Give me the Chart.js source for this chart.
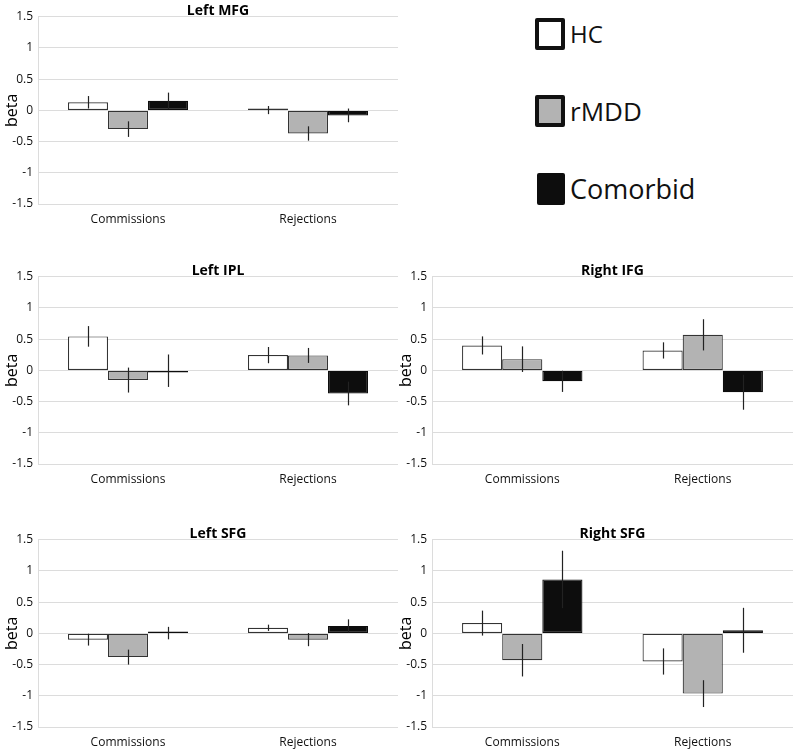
<!DOCTYPE html>
<html>
<head>
<meta charset="utf-8">
<script src="https://cdn.jsdelivr.net/npm/chart.js@4.4.1/dist/chart.umd.min.js"></script>
<style>
  html, body { margin: 0; padding: 0; background: #fff; width: 800px; height: 749px; overflow: hidden; }
  #wrap { position: relative; width: 800px; height: 749px; font-family: "Open Sans", sans-serif; }
  canvas { position: absolute; }
  .lg { position: absolute; display: flex; align-items: center; height: 32px; color: #111; }
  .sw { box-sizing: border-box; height: 32px; border-radius: 2px; margin-right: 5px; }
</style>
</head>
<body>
<div id="wrap"></div>
<script>
// ---- data ----
const categories = ['Commissions', 'Rejections'];
const groups = ['HC', 'rMDD', 'Comorbid'];
const yTicks = [-1.5, -1, -0.5, 0, 0.5, 1, 1.5];

const leftMFG_HC = [0.13, 0.005];      const leftMFG_HC_err = [0.10, 0.065];
const leftMFG_rMDD = [-0.30, -0.37];   const leftMFG_rMDD_err = [0.125, 0.115];
const leftMFG_Com = [0.155, -0.08];    const leftMFG_Com_err = [0.13, 0.11];

const leftIPL_HC = [0.545, 0.245];     const leftIPL_HC_err = [0.165, 0.13];
const leftIPL_rMDD = [-0.155, 0.24];   const leftIPL_rMDD_err = [0.20, 0.12];
const leftIPL_Com = [-0.005, -0.37];   const leftIPL_Com_err = [0.26, 0.19];

const rightIFG_HC = [0.40, 0.32];      const rightIFG_HC_err = [0.145, 0.13];
const rightIFG_rMDD = [0.18, 0.57];    const rightIFG_rMDD_err = [0.205, 0.25];
const rightIFG_Com = [-0.175, -0.35];  const rightIFG_Com_err = [0.17, 0.28];

const leftSFG_HC = [-0.10, 0.09];      const leftSFG_HC_err = [0.095, 0.05];
const leftSFG_rMDD = [-0.38, -0.10];   const leftSFG_rMDD_err = [0.12, 0.105];
const leftSFG_Com = [0.005, 0.12];     const leftSFG_Com_err = [0.10, 0.105];

const rightSFG_HC = [0.165, -0.45];    const rightSFG_HC_err = [0.20, 0.21];
const rightSFG_rMDD = [-0.43, -0.965]; const rightSFG_rMDD_err = [0.26, 0.215];
const rightSFG_Com = [0.865, 0.05];    const rightSFG_Com_err = [0.46, 0.36];

// ---- styles ----
const FONT = '"Open Sans", sans-serif';
const fills = ['#ffffff', '#b3b3b3', '#0d0d0d'];
const borders = ['#333333', '#333333', '#0d0d0d'];
const GRID = '#dcdcdc';

const panels = [
  { title: 'Left MFG', left: 0,   top: 0,   w: 400, h: 240, padR: 2, xh: 36,
    vals: [leftMFG_HC, leftMFG_rMDD, leftMFG_Com], errs: [leftMFG_HC_err, leftMFG_rMDD_err, leftMFG_Com_err] },
  { title: 'Left IPL', left: 0,   top: 260, w: 400, h: 240, padR: 2, xh: 36,
    vals: [leftIPL_HC, leftIPL_rMDD, leftIPL_Com], errs: [leftIPL_HC_err, leftIPL_rMDD_err, leftIPL_Com_err] },
  { title: 'Right IFG', left: 394, top: 260, w: 406, h: 240, padR: 7, xh: 36,
    vals: [rightIFG_HC, rightIFG_rMDD, rightIFG_Com], errs: [rightIFG_HC_err, rightIFG_rMDD_err, rightIFG_Com_err] },
  { title: 'Left SFG', left: 0,   top: 523, w: 400, h: 226, padR: 2, xh: 22,
    vals: [leftSFG_HC, leftSFG_rMDD, leftSFG_Com], errs: [leftSFG_HC_err, leftSFG_rMDD_err, leftSFG_Com_err] },
  { title: 'Right SFG', left: 394, top: 523, w: 406, h: 226, padR: 7, xh: 22,
    vals: [rightSFG_HC, rightSFG_rMDD, rightSFG_Com], errs: [rightSFG_HC_err, rightSFG_rMDD_err, rightSFG_Com_err] }
];

const errorBars = {
  id: 'errorBars',
  afterDatasetsDraw(chart) {
    const ctx = chart.ctx, ys = chart.scales.y;
    ctx.save();
    ctx.strokeStyle = '#222';
    ctx.lineWidth = 1.2;
    chart.data.datasets.forEach((ds, di) => {
      const meta = chart.getDatasetMeta(di);
      meta.data.forEach((bar, i) => {
        const v = ds.data[i], e = ds.errors[i];
        const x = Math.round(bar.x) + 0.5;
        ctx.beginPath();
        ctx.moveTo(x, ys.getPixelForValue(v + e));
        ctx.lineTo(x, ys.getPixelForValue(v - e));
        ctx.stroke();
      });
    });
    ctx.restore();
  }
};

const wrap = document.getElementById('wrap');
panels.forEach(p => {
  const c = document.createElement('canvas');
  c.width = p.w; c.height = p.h;
  c.style.left = p.left + 'px'; c.style.top = p.top + 'px';
  c.style.width = p.w + 'px'; c.style.height = p.h + 'px';
  wrap.appendChild(c);
  new Chart(c, {
    type: 'bar',
    data: {
      labels: categories,
      datasets: groups.map((g, k) => ({
        label: g,
        data: p.vals[k],
        errors: p.errs[k],
        backgroundColor: fills[k],
        borderColor: borders[k],
        borderWidth: 1.2,
        borderSkipped: false,
        minBarLength: 2,
        categoryPercentage: 0.667,
        barPercentage: 1.0
      }))
    },
    options: {
      responsive: false,
      animation: false,
      devicePixelRatio: 1,
      layout: { padding: { left: 0, right: p.padR, top: 0, bottom: 0 } },
      plugins: {
        legend: { display: false },
        tooltip: { enabled: false },
        title: {
          display: true, text: p.title, fullSize: false, color: '#000',
          font: { family: FONT, size: 14, weight: 'bold' },
          padding: { top: 3, bottom: -3 }
        }
      },
      scales: {
        x: {
          grid: { display: false, drawTicks: false },
          border: { display: false },
          ticks: { color: '#111', font: { family: FONT, size: 12 }, padding: 8, maxRotation: 0 },
          afterFit: s => { s.height = p.xh; }
        },
        y: {
          min: -1.5, max: 1.5,
          afterBuildTicks: s => { s.ticks = yTicks.map(v => ({ value: v })); },
          grid: { color: GRID, lineWidth: 1, drawTicks: false },
          border: { display: true, color: GRID },
          ticks: { color: '#111', font: { family: FONT, size: 12 }, padding: 5,
                   callback: v => String(v) },
          title: { display: true, text: 'beta', color: '#000',
                   font: { family: FONT, size: 16 }, padding: { top: 2.5, bottom: 0 } },
          afterFit: s => { s.width = 38; }
        }
      }
    },
    plugins: [errorBars]
  });
});

// ---- legend ----
const legendPos = [
  { top: 18, left: 535, sw: 30, bw: 4, size: 24 },
  { top: 95, left: 535, sw: 30, bw: 4, size: 26 },
  { top: 173, left: 537, sw: 28, bw: 0, size: 27 }
];
groups.forEach((g, k) => {
  const lp = legendPos[k];
  const d = document.createElement('div');
  d.className = 'lg';
  d.style.top = lp.top + 'px'; d.style.left = lp.left + 'px';
  const s = document.createElement('div');
  s.className = 'sw';
  s.style.width = lp.sw + 'px';
  s.style.background = fills[k];
  s.style.border = lp.bw ? (lp.bw + 'px solid #111') : 'none';
  const t = document.createElement('span');
  t.textContent = g;
  t.style.fontSize = lp.size + 'px';
  t.style.lineHeight = '32px';
  d.appendChild(s); d.appendChild(t);
  wrap.appendChild(d);
});
</script>
</body>
</html>
